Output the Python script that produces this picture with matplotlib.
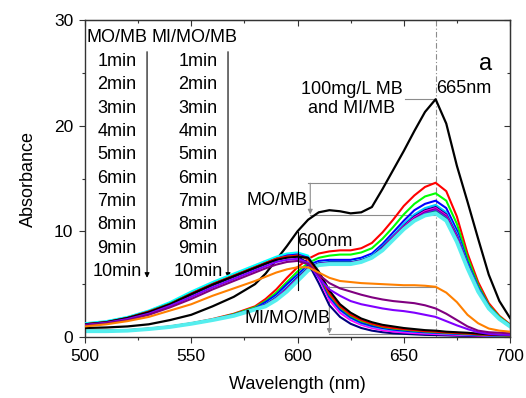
import numpy as np
import matplotlib
matplotlib.use('Agg')
import matplotlib.pyplot as plt

plt.rcParams['font.family'] = ['Liberation Sans', 'DejaVu Sans']

# wavelength grid (nm)
WL = [500, 510, 520, 530, 540, 550, 560, 570, 580, 585, 590, 595, 600,
      605, 610, 615, 620, 625, 630, 635, 640, 645, 650, 655, 660, 665,
      670, 675, 680, 685, 690, 695, 700]

# 100 mg/L MB (and MI/MB)
MB = [0.85, 0.9, 1.0, 1.2, 1.6, 2.1, 2.9, 3.8, 5.0, 6.0, 7.3, 8.6, 10.0,
      11.1, 11.8, 12.0, 11.9, 11.7, 11.8, 12.3, 14.0, 15.8, 17.6, 19.5, 21.3, 22.5,
      20.2, 16.2, 12.8, 9.3, 5.9, 3.4, 1.8]

# MO/MB, 1..10 min
MO_1 = [0.6, 0.6, 0.65, 0.8, 1.0, 1.3, 1.7, 2.2, 2.9, 3.6, 4.5, 5.6, 6.6,
        7.4, 7.9, 8.1, 8.2, 8.2, 8.4, 8.9, 9.9, 11.1, 12.4, 13.4, 14.2, 14.6,
        13.8, 11.4, 7.9, 5.2, 3.2, 2.0, 1.2]
MO_2 = [0.58, 0.58, 0.63, 0.78, 0.98, 1.28, 1.65, 2.15, 2.8, 3.4, 4.2, 5.2, 6.2,
        7.0, 7.5, 7.7, 7.8, 7.8, 8.0, 8.4, 9.3, 10.4, 11.6, 12.6, 13.3, 13.6,
        12.9, 10.7, 7.5, 4.9, 3.0, 1.9, 1.15]
MO_3 = [0.57, 0.57, 0.62, 0.77, 0.97, 1.27, 1.63, 2.1, 2.7, 3.3, 4.0, 5.0, 5.9,
        6.8, 7.2, 7.3, 7.3, 7.3, 7.5, 7.9, 8.8, 9.9, 11.0, 12.0, 12.6, 12.9,
        12.2, 10.1, 7.1, 4.7, 2.9, 1.8, 1.1]
MO_4 = [0.56, 0.56, 0.61, 0.76, 0.96, 1.26, 1.62, 2.05, 2.65, 3.1, 3.8, 4.7, 5.7,
        6.6, 7.0, 7.1, 7.1, 7.1, 7.3, 7.7, 8.6, 9.6, 10.7, 11.6, 12.2, 12.5,
        11.8, 9.8, 6.9, 4.6, 2.8, 1.75, 1.1]
MO_5 = [0.56, 0.56, 0.61, 0.76, 0.96, 1.26, 1.62, 2.05, 2.65, 3.05, 3.7, 4.6, 5.6,
        6.5, 6.95, 7.05, 7.05, 7.05, 7.25, 7.6, 8.5, 9.5, 10.5, 11.4, 12.0, 12.3,
        11.6, 9.6, 6.8, 4.5, 2.8, 1.7, 1.05]
MO_6 = [0.55, 0.55, 0.6, 0.75, 0.95, 1.25, 1.6, 2.05, 2.65, 3.0, 3.65, 4.55, 5.5,
        6.45, 6.9, 7.0, 7.0, 7.0, 7.2, 7.55, 8.4, 9.45, 10.45, 11.3, 11.9, 12.2,
        11.5, 9.5, 6.7, 4.45, 2.75, 1.7, 1.05]
MO_7 = [0.55, 0.55, 0.6, 0.75, 0.95, 1.25, 1.6, 2.0, 2.6, 3.0, 3.6, 4.5, 5.45,
        6.4, 6.85, 6.95, 6.95, 6.95, 7.15, 7.5, 8.35, 9.4, 10.4, 11.2, 11.8, 12.1,
        11.4, 9.4, 6.6, 4.4, 2.75, 1.7, 1.0]
MO_8 = [0.55, 0.55, 0.6, 0.75, 0.95, 1.25, 1.6, 2.0, 2.6, 2.95, 3.55, 4.45, 5.4,
        6.35, 6.85, 6.95, 6.95, 6.95, 7.1, 7.5, 8.3, 9.3, 10.3, 11.1, 11.7, 12.0,
        11.3, 9.3, 6.6, 4.4, 2.7, 1.7, 1.0]
MO_9 = [0.55, 0.55, 0.6, 0.75, 0.95, 1.25, 1.6, 2.0, 2.6, 2.92, 3.52, 4.4, 5.35,
        6.32, 6.82, 6.92, 6.92, 6.92, 7.1, 7.5, 8.25, 9.25, 10.25, 11.05, 11.6, 11.9,
        11.2, 9.2, 6.55, 4.35, 2.7, 1.7, 1.0]
MO_10 = [0.55, 0.55, 0.6, 0.75, 0.95, 1.25, 1.6, 2.0, 2.6, 2.9, 3.5, 4.3, 5.3,
         6.3, 6.8, 6.9, 6.9, 6.9, 7.1, 7.5, 8.2, 9.2, 10.2, 11.0, 11.5, 11.7,
         11.0, 9.0, 6.5, 4.3, 2.7, 1.7, 1.0]

# MI/MO/MB, 1..10 min
MI_1 = [1.0, 1.2, 1.5, 1.9, 2.5, 3.1, 3.9, 4.6, 5.3, 5.7, 6.1, 6.4, 6.6,
        6.6, 6.1, 5.6, 5.3, 5.2, 5.1, 5.05, 5.0, 4.95, 4.9, 4.9, 4.85, 4.75,
        4.2, 3.3, 2.1, 1.3, 0.8, 0.6, 0.5]
MI_2 = [1.1, 1.3, 1.6, 2.1, 2.8, 3.6, 4.5, 5.3, 6.1, 6.5, 6.85, 7.1, 7.2,
        6.9, 5.9, 5.1, 4.6, 4.3, 4.0, 3.75, 3.55, 3.4, 3.3, 3.2, 3.0, 2.7,
        2.2, 1.6, 1.0, 0.6, 0.45, 0.4, 0.35]
MI_3 = [1.15, 1.35, 1.7, 2.2, 2.95, 3.8, 4.7, 5.5, 6.3, 6.7, 7.1, 7.3, 7.4,
        7.0, 5.6, 4.5, 3.9, 3.4, 3.1, 2.9, 2.7, 2.55, 2.45, 2.3, 2.1, 1.9,
        1.5, 1.1, 0.75, 0.45, 0.3, 0.22, 0.2]
MI_4 = [1.2, 1.4, 1.8, 2.35, 3.1, 4.05, 4.95, 5.75, 6.55, 6.95, 7.3, 7.5, 7.6,
        7.5, 6.2, 4.4, 3.1, 2.3, 1.75, 1.4, 1.15, 1.0, 0.85, 0.75, 0.65, 0.6,
        0.5, 0.45, 0.4, 0.32, 0.25, 0.2, 0.18]
MI_5 = [1.2, 1.4, 1.8, 2.4, 3.1, 4.1, 5.0, 5.8, 6.6, 7.0, 7.4, 7.6, 7.7,
        7.4, 6.0, 4.1, 2.9, 2.1, 1.6, 1.25, 1.0, 0.85, 0.75, 0.65, 0.55, 0.5,
        0.42, 0.38, 0.32, 0.26, 0.2, 0.17, 0.15]
MI_6 = [1.2, 1.4, 1.8, 2.4, 3.15, 4.1, 5.0, 5.8, 6.6, 7.0, 7.4, 7.6, 7.7,
        7.4, 5.9, 4.0, 2.8, 2.0, 1.5, 1.2, 0.95, 0.8, 0.7, 0.6, 0.52, 0.46,
        0.4, 0.35, 0.3, 0.24, 0.2, 0.15, 0.13]
MI_7 = [1.2, 1.4, 1.8, 2.4, 3.15, 4.1, 5.0, 5.8, 6.6, 7.0, 7.4, 7.7, 7.8,
        7.5, 5.8, 3.8, 2.6, 1.85, 1.35, 1.05, 0.85, 0.7, 0.6, 0.52, 0.45, 0.4,
        0.35, 0.3, 0.25, 0.2, 0.16, 0.13, 0.1]
MI_8 = [1.3, 1.5, 1.9, 2.5, 3.3, 4.3, 5.2, 6.0, 6.8, 7.2, 7.6, 7.9, 8.0,
        7.7, 5.9, 3.8, 2.55, 1.8, 1.3, 1.0, 0.8, 0.67, 0.57, 0.5, 0.43, 0.38,
        0.33, 0.28, 0.24, 0.2, 0.15, 0.12, 0.1]
MI_9 = [1.25, 1.45, 1.85, 2.45, 3.2, 4.2, 5.1, 5.9, 6.7, 7.1, 7.5, 7.8, 7.9,
        7.5, 5.6, 3.5, 2.3, 1.6, 1.15, 0.85, 0.65, 0.52, 0.43, 0.37, 0.32, 0.28,
        0.24, 0.2, 0.17, 0.14, 0.12, 0.1, 0.08]
MI_10 = [1.15, 1.35, 1.75, 2.35, 3.1, 4.0, 4.9, 5.7, 6.5, 6.9, 7.3, 7.55, 7.6,
         7.0, 5.1, 3.0, 1.9, 1.25, 0.85, 0.6, 0.45, 0.35, 0.3, 0.25, 0.2, 0.18,
         0.15, 0.12, 0.1, 0.08, 0.07, 0.06, 0.05]

MO_SERIES = [MO_1, MO_2, MO_3, MO_4, MO_5, MO_6, MO_7, MO_8, MO_9, MO_10]
MI_SERIES = [MI_1, MI_2, MI_3, MI_4, MI_5, MI_6, MI_7, MI_8, MI_9, MI_10]
TIMES = ['1min', '2min', '3min', '4min', '5min',
         '6min', '7min', '8min', '9min', '10min']

MO_COLORS = ['#ff0000', '#00ff00', '#0000ff', '#00c8ff', '#000080',
             '#ff00ff', '#800080', '#8000ff', '#008080', '#55eeee']
MI_COLORS = ['#ff8000', '#800080', '#8000ff', '#000000', '#ff0000',
             '#00ff00', '#0000ff', '#00ffff', '#ff00ff', '#000080']

GRAY = '#8c8c8c'
AXC = '#333333'
FS = 13


def main():
    fig = plt.figure(figsize=(5.26, 3.98), dpi=100)
    ax = fig.add_axes([0.1616, 0.1533, 0.808, 0.7964])

    for ys, c in zip(MO_SERIES, MO_COLORS):
        lw = 2.8 if c == '#55eeee' else 1.5
        ax.plot(WL, ys, color=c, lw=lw, zorder=2)
    ax.plot(WL, MB, color='black', lw=1.6, zorder=3)
    for ys, c in zip(MI_SERIES[::-1], MI_COLORS[::-1]):
        ax.plot(WL, ys, color=c, lw=1.5, zorder=4)

    # reference lines
    ax.axvline(665, color=GRAY, lw=0.8, ls=(0, (5, 2, 1, 2)), zorder=1)
    ax.plot([650.5, 665], [22.5, 22.5], color=GRAY, lw=0.8, zorder=1)
    ax.plot([605, 665], [14.55, 14.55], color=GRAY, lw=0.8, zorder=1)
    ax.plot([606, 665], [11.56, 11.56], color=GRAY, lw=0.8, zorder=1)
    ax.plot([615, 665], [4.77, 4.77], color=GRAY, lw=0.8, zorder=1)
    ax.plot([615, 665], [0.28, 0.28], color=GRAY, lw=0.8, zorder=1)
    arrow_g = dict(arrowstyle='-|>', color=GRAY, lw=0.8, mutation_scale=7,
                   shrinkA=0, shrinkB=0)
    ax.annotate('', xy=(606, 11.6), xytext=(606, 14.55), arrowprops=arrow_g)
    ax.annotate('', xy=(615, 0.3), xytext=(615, 4.77), arrowprops=arrow_g)
    ax.plot([600, 600], [4.4, 9.9], color='black', lw=0.8, zorder=5)

    # annotations
    ax.text(625.5, 22.5, '100mg/L MB\nand MI/MB', ha='center', va='center',
            fontsize=FS, linespacing=1.15)
    ax.text(665.3, 23.5, '665nm', ha='left', va='center', fontsize=FS)
    ax.text(688.7, 25.8, 'a', ha='center', va='center', fontsize=17)
    ax.text(604.5, 12.9, 'MO/MB', ha='right', va='center', fontsize=FS)
    ax.text(615.3, 1.75, 'MI/MO/MB', ha='right', va='center', fontsize=FS,
            zorder=6)
    ax.text(599.6, 9.05, '600nm', ha='left', va='center', fontsize=FS,
            zorder=6)

    # time columns
    ax.text(500.5, 28.3, 'MO/MB', ha='left', va='center', fontsize=FS)
    ax.text(531.4, 28.3, 'MI/MO/MB', ha='left', va='center', fontsize=FS)
    for i, t in enumerate(TIMES):
        y = 26.07 - 2.21 * i
        ax.text(515, y, t, ha='center', va='center', fontsize=FS)
        ax.text(553.2, y, t, ha='center', va='center', fontsize=FS)
    arrow_k = dict(arrowstyle='-|>', color='black', lw=0.8, mutation_scale=7,
                   shrinkA=0, shrinkB=0)
    ax.annotate('', xy=(529.2, 5.6), xytext=(529.2, 27.0), arrowprops=arrow_k)
    ax.annotate('', xy=(567.3, 5.6), xytext=(567.3, 27.0), arrowprops=arrow_k)

    ax.set_xlim(500, 700)
    ax.set_ylim(0, 30)
    xmaj, xmin = [500, 550, 600, 650, 700], [525, 575, 625, 675]
    ymaj, ymin = [0, 10, 20, 30], [5, 15, 25]
    ax.set_xticks(xmaj)
    ax.set_xticks(xmin, minor=True)
    ax.set_yticks(ymaj)
    ax.set_yticks(ymin, minor=True)
    ax.tick_params(which='both', labelsize=12.5, width=0.8, color=AXC)
    ax.tick_params(which='major', length=4.5, pad=4)
    ax.tick_params(which='minor', length=2.5)

    # top / right: inward ticks, no labels
    top = ax.secondary_xaxis('top')
    top.set_xticks(xmaj)
    top.set_xticks(xmin, minor=True)
    right = ax.secondary_yaxis('right')
    right.set_yticks(ymaj)
    right.set_yticks(ymin, minor=True)
    for sec in (top, right):
        sec.tick_params(which='both', direction='in', width=0.8, color=AXC,
                        labeltop=False, labelright=False)
        sec.tick_params(which='major', length=4.5)
        sec.tick_params(which='minor', length=2.5)
        for spine in sec.spines.values():
            spine.set_color(AXC)
    for spine in ax.spines.values():
        spine.set_color(AXC)
        spine.set_linewidth(1.0)
    ax.set_xlabel('Wavelength (nm)', fontsize=FS, labelpad=9)
    ax.set_ylabel('Absorbance', fontsize=FS, labelpad=12)

    fig.savefig('out.png', dpi=100)
    plt.close(fig)


if __name__ == '__main__':
    main()
